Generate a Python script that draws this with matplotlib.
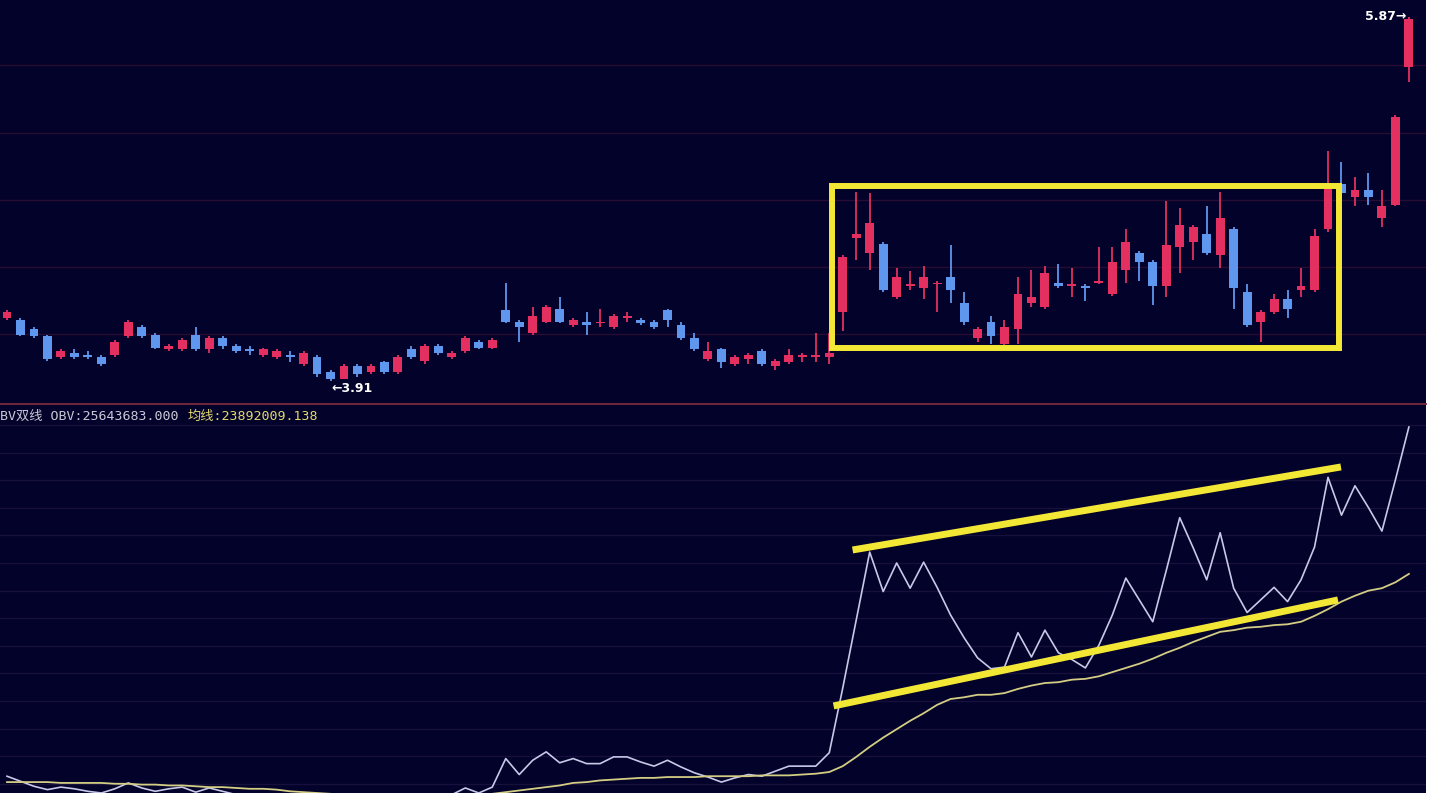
import matplotlib
matplotlib.use('Agg')
import matplotlib.pyplot as plt
from matplotlib.patches import Rectangle
from matplotlib.lines import Line2D
import numpy as np

# ---------------- data ----------------
opens = [4.25, 4.24, 4.19, 4.15, 4.04, 4.06, 4.05, 4.04, 4.05, 4.15,
         4.20, 4.16, 4.08, 4.08, 4.16, 4.08, 4.14, 4.10, 4.08, 4.05,
         4.04, 4.05, 4.00, 4.04, 3.96, 3.92, 3.99, 3.96, 4.01, 3.96,
         4.08, 4.02, 4.10, 4.04, 4.07, 4.12, 4.09, 4.29, 4.23, 4.17,
         4.23, 4.30, 4.21, 4.23, 4.22, 4.20, 4.25, 4.24, 4.23, 4.29,
         4.21, 4.14, 4.03, 4.08, 4.00, 4.03, 4.07, 3.99, 4.01, 4.04,
         4.04, 4.04, 4.28, 4.68, 4.60, 4.65, 4.36, 4.42, 4.41, 4.43,
         4.47, 4.33, 4.14, 4.23, 4.11, 4.19, 4.33, 4.31, 4.44, 4.42,
         4.42, 4.44, 4.38, 4.51, 4.60, 4.55, 4.42, 4.63, 4.66, 4.70,
         4.59, 4.73, 4.39, 4.23, 4.28, 4.35, 4.40, 4.40, 4.73, 4.97,
         4.90, 4.94, 4.79, 4.86, 5.60]
highs = [4.29, 4.25, 4.20, 4.16, 4.08, 4.08, 4.07, 4.05, 4.13, 4.24,
         4.21, 4.17, 4.11, 4.14, 4.20, 4.15, 4.15, 4.11, 4.10, 4.09,
         4.08, 4.07, 4.07, 4.05, 3.97, 4.00, 4.00, 4.00, 4.02, 4.05,
         4.10, 4.11, 4.11, 4.07, 4.15, 4.13, 4.14, 4.44, 4.24, 4.31,
         4.32, 4.36, 4.25, 4.28, 4.30, 4.27, 4.28, 4.25, 4.24, 4.30,
         4.23, 4.17, 4.12, 4.09, 4.05, 4.06, 4.08, 4.03, 4.08, 4.06,
         4.17, 4.17, 4.59, 4.93, 4.92, 4.66, 4.52, 4.50, 4.53, 4.45,
         4.64, 4.39, 4.20, 4.26, 4.24, 4.47, 4.51, 4.53, 4.54, 4.52,
         4.43, 4.63, 4.63, 4.73, 4.61, 4.56, 4.88, 4.84, 4.75, 4.85,
         4.93, 4.74, 4.43, 4.29, 4.38, 4.40, 4.52, 4.73, 5.15, 5.09,
         5.01, 5.03, 4.94, 5.34, 5.87]
lows = [4.24, 4.15, 4.14, 4.02, 4.03, 4.03, 4.03, 3.99, 4.04, 4.14,
        4.14, 4.08, 4.07, 4.07, 4.07, 4.06, 4.08, 4.06, 4.05, 4.04,
        4.03, 4.01, 3.99, 3.93, 3.91, 3.92, 3.93, 3.95, 3.95, 3.95,
        4.03, 4.00, 4.05, 4.03, 4.06, 4.08, 4.08, 4.22, 4.12, 4.16,
        4.22, 4.22, 4.20, 4.16, 4.20, 4.19, 4.23, 4.21, 4.19, 4.20,
        4.13, 4.07, 4.02, 3.98, 3.99, 4.00, 3.99, 3.97, 4.00, 4.01,
        4.01, 4.00, 4.18, 4.56, 4.51, 4.39, 4.35, 4.40, 4.35, 4.28,
        4.33, 4.21, 4.12, 4.11, 4.10, 4.11, 4.31, 4.30, 4.41, 4.36,
        4.34, 4.43, 4.37, 4.44, 4.45, 4.32, 4.36, 4.49, 4.56, 4.59,
        4.52, 4.30, 4.20, 4.12, 4.27, 4.25, 4.36, 4.39, 4.71, 4.91,
        4.85, 4.86, 4.74, 4.85, 5.52]
closes = [4.28, 4.16, 4.15, 4.03, 4.07, 4.04, 4.04, 4.00, 4.12, 4.23,
          4.15, 4.09, 4.10, 4.13, 4.08, 4.14, 4.10, 4.07, 4.07, 4.08,
          4.07, 4.04, 4.06, 3.95, 3.92, 3.99, 3.95, 3.99, 3.96, 4.04,
          4.04, 4.10, 4.06, 4.06, 4.14, 4.09, 4.13, 4.23, 4.20, 4.26,
          4.31, 4.23, 4.24, 4.21, 4.23, 4.26, 4.26, 4.22, 4.20, 4.24,
          4.14, 4.08, 4.07, 4.01, 4.04, 4.05, 4.00, 4.02, 4.05, 4.05,
          4.05, 4.06, 4.58, 4.70, 4.76, 4.40, 4.47, 4.43, 4.47, 4.44,
          4.40, 4.23, 4.19, 4.15, 4.20, 4.38, 4.36, 4.49, 4.42, 4.43,
          4.41, 4.45, 4.55, 4.66, 4.55, 4.42, 4.64, 4.75, 4.74, 4.60,
          4.79, 4.41, 4.21, 4.28, 4.35, 4.30, 4.42, 4.69, 4.95, 4.92,
          4.94, 4.90, 4.85, 5.33, 5.86]

# OBV and its moving average, in millions
obv = [21.48, 21.42, 21.36, 21.32, 21.35, 21.33, 21.30, 21.28, 21.33, 21.40,
       21.34, 21.30, 21.33, 21.35, 21.29, 21.34, 21.30, 21.26, 21.25, 21.22,
       21.23, 21.21, 21.20, 21.17, 21.16, 21.19, 21.20, 21.21, 21.22, 21.23,
       21.25, 21.22, 21.23, 21.26, 21.34, 21.28, 21.35, 21.69, 21.50, 21.67,
       21.77, 21.64, 21.69, 21.63, 21.63, 21.71, 21.71, 21.65, 21.60, 21.67,
       21.59, 21.52, 21.47, 21.41, 21.46, 21.50, 21.48, 21.54, 21.60, 21.60,
       21.60, 21.76, 22.53, 23.34, 24.15, 23.68, 24.02, 23.72, 24.03, 23.73,
       23.40, 23.13, 22.89, 22.76, 22.78, 23.19, 22.90, 23.22, 22.95, 22.87,
       22.77, 23.04, 23.40, 23.84, 23.58, 23.32, 23.93, 24.56, 24.20, 23.82,
       24.38, 23.72, 23.43, 23.58, 23.73, 23.56, 23.82, 24.21, 25.04, 24.59,
       24.94, 24.68, 24.40, 25.01, 25.64]
obv_ma = [21.41, 21.41, 21.41, 21.41, 21.40, 21.40, 21.40, 21.40, 21.39, 21.39,
          21.38, 21.38, 21.37, 21.37, 21.36, 21.35, 21.35, 21.34, 21.33, 21.33,
          21.32, 21.30, 21.29, 21.28, 21.27, 21.26, 21.25, 21.25, 21.24, 21.24,
          21.23, 21.23, 21.23, 21.23, 21.24, 21.25, 21.27, 21.29, 21.31, 21.33,
          21.35, 21.37, 21.40, 21.41, 21.43, 21.44, 21.45, 21.46, 21.46, 21.47,
          21.47, 21.47, 21.48, 21.48, 21.48, 21.48, 21.49, 21.49, 21.49, 21.50,
          21.51, 21.53, 21.60, 21.71, 21.83, 21.94, 22.04, 22.14, 22.23, 22.33,
          22.40, 22.42, 22.45, 22.45, 22.47, 22.52, 22.56, 22.59, 22.60, 22.63,
          22.64, 22.67, 22.72, 22.77, 22.82, 22.88, 22.95, 23.01, 23.08, 23.14,
          23.20, 23.22, 23.25, 23.26, 23.28, 23.29, 23.32, 23.39, 23.47, 23.56,
          23.63, 23.69, 23.72, 23.79, 23.89]

indicator_name = "BV双线"
obv_text = "OBV:25643683.000"
ma_text = "均线:23892009.138"
high_label = "5.87"
low_label = "3.91"

# ---------------- style ----------------
BG = '#03022a'
RED = '#e33060'
BLUE = '#5f97ee'
YEL = '#f3e736'
W, H = 1440, 793

fig = plt.figure(figsize=(14.4, 7.93), dpi=100)
fig.patch.set_facecolor('white')

right_frac = 1426 / W
sep = (H - 404) / H
ax1 = fig.add_axes([0, sep, right_frac, 1 - sep])
ax2 = fig.add_axes([0, 0, right_frac, sep])

for ax in (ax1, ax2):
    ax.set_facecolor(BG)
    ax.set_xticks([])
    ax.set_yticks([])
    for s in ax.spines.values():
        s.set_visible(False)
    ax.set_xlim(-0.52, 105.27)

ax1.set_ylim(3.786, 5.962)
ax2.set_ylim(21.28, 25.914)

# grid lines
for gy in [5.612, 5.246, 4.885, 4.524, 4.163]:
    ax1.axhline(gy, color='#270d33', lw=1.0, zorder=0)
for k in range(14):
    ypix = 425 + 27.6 * k
    f = 1 - (ypix - 404) / 389
    ax2.plot([0, 1], [f, f], transform=ax2.transAxes, color='#15113c', lw=1.0, zorder=0)

# candles
x = np.arange(len(opens))
o = np.array(opens); h = np.array(highs); l = np.array(lows); c = np.array(closes)
up = c >= o
cols = np.where(up, RED, BLUE)
ax1.vlines(x, l, h, colors=cols, lw=1.3, zorder=2)
body_h = np.maximum(np.abs(c - o), 0.009)
body_b = np.minimum(o, c) - np.where(np.abs(c - o) < 0.009, 0.0045, 0)
ax1.bar(x, body_h, bottom=body_b, width=0.66, color=cols, lw=0, zorder=3)

ax1.text(103.8, 5.875, high_label + '→', ha='right', va='center', color='white',
         fontsize=9, fontweight='bold', zorder=6)
ax1.text(24.05, 3.905, '←' + low_label, ha='left', va='top', color='white',
         fontsize=9, fontweight='bold', zorder=6)

# highlight rectangle
ax1.add_patch(Rectangle((61.17, 4.088), 98.81 - 61.17, 4.96 - 4.088, fill=False,
                        ec=YEL, lw=4.3, zorder=7, joinstyle='miter'))

# OBV panel
ax2.plot(x, obv, color='#c8c8e8', lw=1.2, zorder=3)
ax2.plot(x, obv_ma, color='#d4cd84', lw=1.3, zorder=3)
ax2.plot([62.73, 98.96], [24.175, 25.164], color=YEL, lw=5, solid_capstyle='butt', zorder=6)
ax2.plot([61.32, 98.74], [22.317, 23.58], color=YEL, lw=5, solid_capstyle='butt', zorder=6)

# separator
fig.add_artist(Line2D([0, right_frac], [sep, sep], color='#7a2a3c', lw=1.3))

# header
fam = ['DejaVu Sans Mono', 'Noto Sans CJK SC']
fig.text(0.0, (H - 416) / H, indicator_name + ' ' + obv_text, color='#c9c9d6',
         fontsize=9.5, family=fam, va='center', ha='left')
fig.text(188 / W, (H - 416) / H, ma_text, color='#e2d86c',
         fontsize=9.5, family=fam, va='center', ha='left')

fig.savefig('out.png', dpi=100, facecolor=fig.get_facecolor())
